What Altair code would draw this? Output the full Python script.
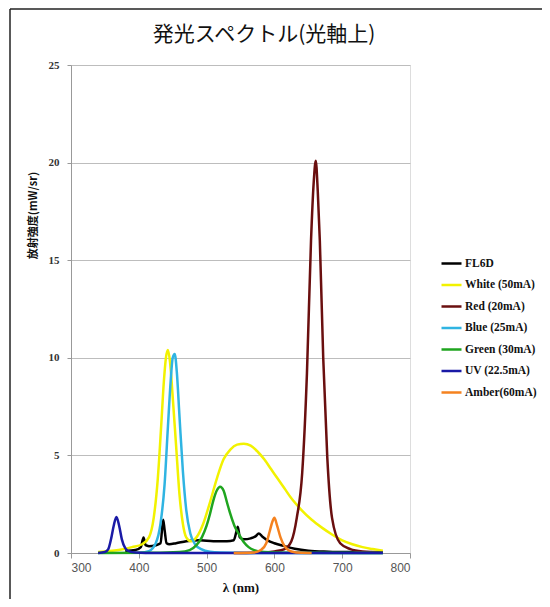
import altair as alt
import pandas as pd

title_text = "発光スペクトル(光軸上)"
labels = ["FL6D", "White (50mA)", "Red (20mA)", "Blue (25mA)", "Green (30mA)", "UV (22.5mA)", "Amber(60mA)"]
colors = ["#000000", "#F2F200", "#6A0F0F", "#2FB4E2", "#1FA51F", "#1A1AA6", "#F5821F"]

wl_fl6d = [380, 395, 403, 407, 410, 415, 425, 432, 436, 438, 441, 445, 455, 470, 490, 510, 530, 540, 544, 546, 549, 555, 565, 572, 577, 582, 590, 600, 615, 630, 650, 680, 720, 760]
fl6d = [0.1, 0.15, 0.3, 0.8, 0.4, 0.35, 0.4, 0.5, 1.7, 1.2, 0.5, 0.45, 0.5, 0.6, 0.65, 0.6, 0.6, 0.65, 1.1, 1.35, 0.8, 0.7, 0.75, 0.85, 1.0, 0.85, 0.65, 0.5, 0.35, 0.22, 0.12, 0.07, 0.04, 0.02]

wl_white = [340, 370, 390, 405, 415, 422, 428, 433, 437, 440, 443, 446, 450, 455, 460, 465, 470, 477, 485, 495, 505, 515, 525, 535, 545, 555, 565, 575, 585, 595, 605, 615, 625, 640, 655, 670, 685, 700, 715, 730, 745, 760]
white = [0.05, 0.15, 0.3, 0.45, 0.8, 1.8, 3.8, 6.5, 8.8, 10.0, 10.4, 9.8, 8.0, 5.5, 3.0, 1.5, 0.8, 0.6, 0.8, 1.5, 2.6, 3.8, 4.8, 5.3, 5.55, 5.6, 5.5, 5.2, 4.8, 4.3, 3.8, 3.3, 2.8, 2.2, 1.7, 1.3, 0.95, 0.65, 0.45, 0.3, 0.2, 0.12]

wl_red = [540, 580, 600, 615, 625, 633, 641, 648, 654, 658, 661, 664, 667, 672, 678, 685, 697, 712, 730, 760]
red = [0, 0.02, 0.08, 0.2, 0.6, 1.8, 4.1, 9.2, 16.0, 19.0, 20.1, 18.5, 16.0, 10.0, 4.9, 1.8, 0.5, 0.2, 0.08, 0.03]

wl_blue = [400, 415, 425, 432, 438, 443, 447, 450, 453, 456, 460, 465, 470, 476, 483, 492, 505, 520, 560, 760]
blue = [0, 0.1, 0.5, 1.5, 3.5, 6.5, 8.8, 10.0, 10.2, 9.3, 7.0, 4.2, 2.2, 1.0, 0.45, 0.2, 0.06, 0.02, 0, 0]

wl_green = [340, 420, 460, 475, 485, 493, 500, 505, 510, 515, 520, 525, 530, 535, 541, 547, 555, 562, 570, 585, 620, 760]
green = [0, 0.01, 0.05, 0.15, 0.4, 0.8, 1.4, 2.0, 2.7, 3.2, 3.4, 3.2, 2.6, 2.0, 1.4, 1.0, 0.55, 0.3, 0.15, 0.05, 0.01, 0]

wl_uv = [340, 350, 355, 359, 363, 367, 371, 375, 380, 386, 395, 410, 500, 760]
uv = [0, 0.05, 0.2, 0.7, 1.4, 1.85, 1.4, 0.7, 0.25, 0.08, 0.02, 0, 0, 0]

wl_amber = [540, 570, 580, 588, 593, 597, 600, 604, 609, 615, 625, 640, 655]
amber = [0, 0.03, 0.15, 0.5, 1.1, 1.6, 1.8, 1.4, 0.8, 0.35, 0.08, 0.01, 0]

x_ticks = [300, 400, 500, 600, 700, 800]
y_ticks = [0, 5, 10, 15, 20, 25]

series = [
    (labels[0], wl_fl6d, fl6d),
    (labels[1], wl_white, white),
    (labels[2], wl_red, red),
    (labels[3], wl_blue, blue),
    (labels[4], wl_green, green),
    (labels[5], wl_uv, uv),
    (labels[6], wl_amber, amber),
]

color_scale = alt.Scale(domain=labels, range=colors)
x_scale = alt.Scale(domain=[300, 800], nice=False)
y_scale = alt.Scale(domain=[0, 25], nice=False)

layers = []
for i, (name, wl, vals) in enumerate(series):
    df = pd.DataFrame({"wl": wl, "v": vals, "s": name})
    x_enc = alt.X("wl:Q", scale=x_scale,
                  axis=alt.Axis(values=x_ticks, title="λ (nm)", grid=False,
                                labelFont="Liberation Sans", labelFontSize=12, labelColor="#555555",
                                titleFont="Liberation Serif", titleFontSize=13, titleFontWeight="bold",
                                titleColor="#111111", titlePadding=8,
                                domainColor="#999999", tickColor="#999999", tickSize=5, labelPadding=4))
    y_enc = alt.Y("v:Q", scale=y_scale,
                  axis=alt.Axis(values=y_ticks, title="放射強度(mW/sr)", grid=True, gridColor="#BDBDBD",
                                labelFont="Liberation Serif", labelFontSize=11, labelFontWeight="bold",
                                labelColor="#333333", labelPadding=8,
                                titleFont="Noto Sans CJK JP", titleFontSize=11, titleFontWeight="bold",
                                titleColor="#111111", titleX=-38, titleY=150, titleAngle=-90,
                                titleAlign="center", titleBaseline="middle",
                                domainColor="#999999", tickColor="#999999", tickSize=4))
    legend = None
    if i == 0:
        legend = alt.Legend(title=None, orient="none", legendX=369, legendY=187,
                            symbolType="stroke", symbolSize=400, symbolStrokeWidth=2.5,
                            labelFont="Liberation Serif", labelFontSize=11.5, labelFontWeight="bold",
                            labelColor="#111111", rowPadding=4.5, labelOffset=2)
    layers.append(
        alt.Chart(df).mark_line(strokeWidth=2.5, interpolate="monotone").encode(
            x=x_enc, y=y_enc,
            color=alt.Color("s:N", scale=color_scale, legend=legend),
        )
    )

frame_df = pd.DataFrame({"t": [title_text]})
left_border = alt.Chart(frame_df).mark_rule(color="#222222", strokeWidth=1.5).encode(
    x=alt.value(-61), y=alt.value(-56), y2=alt.value(545))
top_border = alt.Chart(frame_df).mark_rule(color="#222222", strokeWidth=1.5).encode(
    x=alt.value(-61), x2=alt.value(480), y=alt.value(-56))
title_mark = alt.Chart(frame_df).mark_text(
    font="Noto Sans CJK JP", fontSize=21, color="#111111", align="center", baseline="middle"
).encode(x=alt.value(193), y=alt.value(-30), text="t:N")

chart = alt.layer(*layers, left_border, top_border, title_mark).properties(
    width=339, height=488,
    autosize=alt.AutoSizeParams(type="none"),
    padding={"left": 63, "top": 57, "right": 132, "bottom": 46},
).configure_view(stroke=None).configure(background="white")

chart.save("out.html", embed_options={"renderer": "svg", "actions": False})
